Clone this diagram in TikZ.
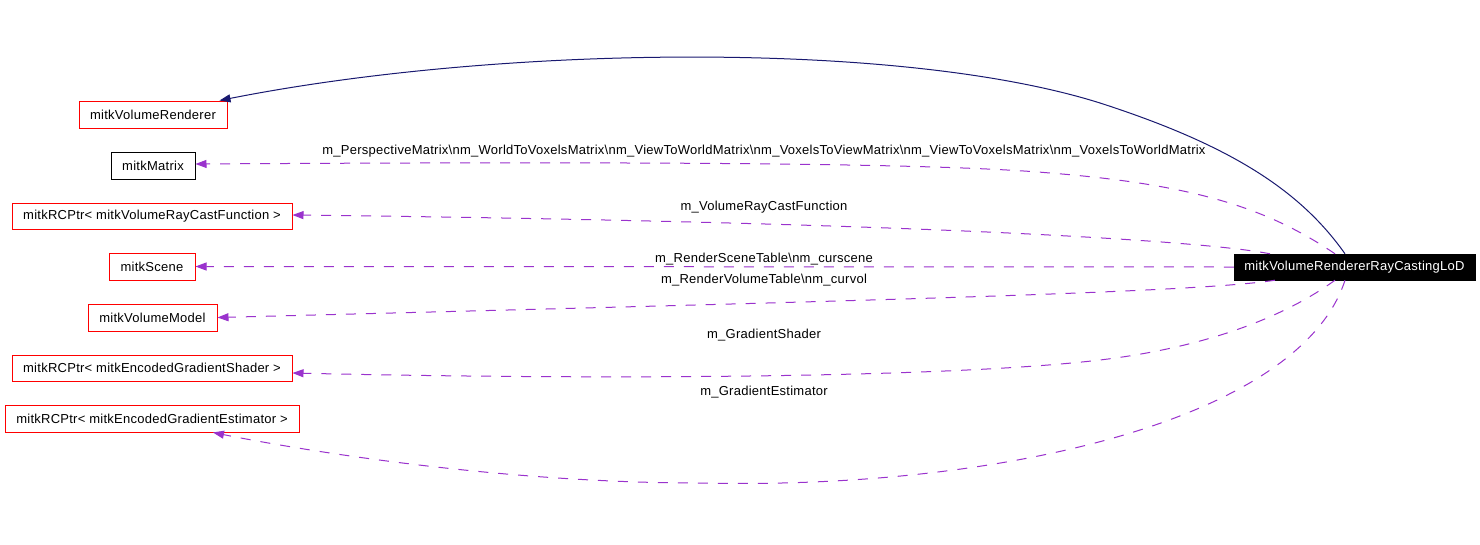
\documentclass[tikz,border=0pt]{standalone}
\usepackage{fontspec}
\setmainfont{Liberation Sans}[LetterSpace=2]
\usetikzlibrary{arrows.meta}
\definecolor{navyc}{HTML}{191970}
\definecolor{depc}{HTML}{9A32CD}
\definecolor{boxred}{HTML}{FF0000}
\begin{document}
\begin{tikzpicture}[x=1pt,y=-1pt,
  txt/.style={font=\fontsize{13}{15}\selectfont},
  cls/.style={txt, draw=boxred, line width=1pt, inner sep=0pt, minimum height=27pt, fill=white},
  clsb/.style={cls, draw=black},
  mainc/.style={txt, draw=black, fill=black, text=white, inner sep=0pt, minimum height=26pt},
  inh/.style={draw=navyc, line width=1pt, -{Triangle[length=11pt,width=8pt,fill=navyc]}},
  dep/.style={draw=depc, line width=1pt, dash pattern=on 10pt off 10pt, -{Triangle[length=11pt,width=8pt,fill=depc]}},
  lbl/.style={txt, inner sep=0pt}
]
\useasboundingbox (0,0) rectangle (1480,544);
\fill[white] (0,0) rectangle (1480,544);

\node[cls, minimum width=148pt] (vr) at (153,114.5) {mitkVolumeRenderer};
\node[clsb, minimum width=84pt] (mat) at (153,165.5) {mitkMatrix};
\node[cls, minimum width=280pt, minimum height=26pt] (rcf) at (152,216) {mitkRCPtr< mitkVolumeRayCastFunction >};
\node[cls, minimum width=86pt] (scene) at (152,266.5) {mitkScene};
\node[cls, minimum width=129pt] (model) at (152.5,317.5) {mitkVolumeModel};
\node[cls, minimum width=280pt, minimum height=26pt] (gs) at (152,368) {mitkRCPtr< mitkEncodedGradientShader >};
\node[cls, minimum width=294pt] (ge) at (152,418.5) {mitkRCPtr< mitkEncodedGradientEstimator >};
\node[mainc, minimum width=241pt] (lod) at (1354.5,267) {mitkVolumeRendererRayCastingLoD};

% inheritance
\draw[inh] ([xshift=-9.5pt]lod.north) .. controls (1300,190) and (1230,145) .. (1100,103)
  .. controls (900,40) and (500,45) .. ([xshift=-8pt]vr.north east);

% dependencies
\draw[dep] ([xshift=-19.5pt]lod.north) .. controls (1270,210) and (1200,185) .. (1050,173)
  .. controls (950,164) and (700,161) .. ([yshift=1.5pt]mat.east);
\draw[dep] ([xshift=-84.5pt]lod.north) .. controls (1200,240) and (900,222) .. ([yshift=1pt]rcf.east);
\draw[dep] (lod.west) -- (scene.east);
\draw[dep] ([xshift=-79.5pt]lod.south) .. controls (1200,292) and (900,300) .. (model.east);
\draw[dep] ([xshift=-19.5pt]lod.south) .. controls (1280,320) and (1200,348) .. (1100,360)
  .. controls (950,378) and (600,380) .. ([yshift=-5pt]gs.east);
\draw[dep] ([xshift=-9.5pt]lod.south) .. controls (1300,420) and (1000,490) .. (700,483)
  .. controls (500,483) and (300,450) .. ([xshift=61pt]ge.south);

% labels
\node[lbl] (l1) at (764,151) {m\_PerspectiveMatrix\textbackslash nm\_WorldToVoxelsMatrix\textbackslash nm\_ViewToWorldMatrix\textbackslash nm\_VoxelsToViewMatrix\textbackslash nm\_ViewToVoxelsMatrix\textbackslash nm\_VoxelsToWorldMatrix};
\node[lbl] (l2) at (764,207) {m\_VolumeRayCastFunction};
\node[lbl] (l3) at (764,259) {m\_RenderSceneTable\textbackslash nm\_curscene};
\node[lbl] (l4) at (764,280) {m\_RenderVolumeTable\textbackslash nm\_curvol};
\node[lbl] (l5) at (764,335) {m\_GradientShader};
\node[lbl] (l6) at (764,392) {m\_GradientEstimator};
\end{tikzpicture}
\end{document}
